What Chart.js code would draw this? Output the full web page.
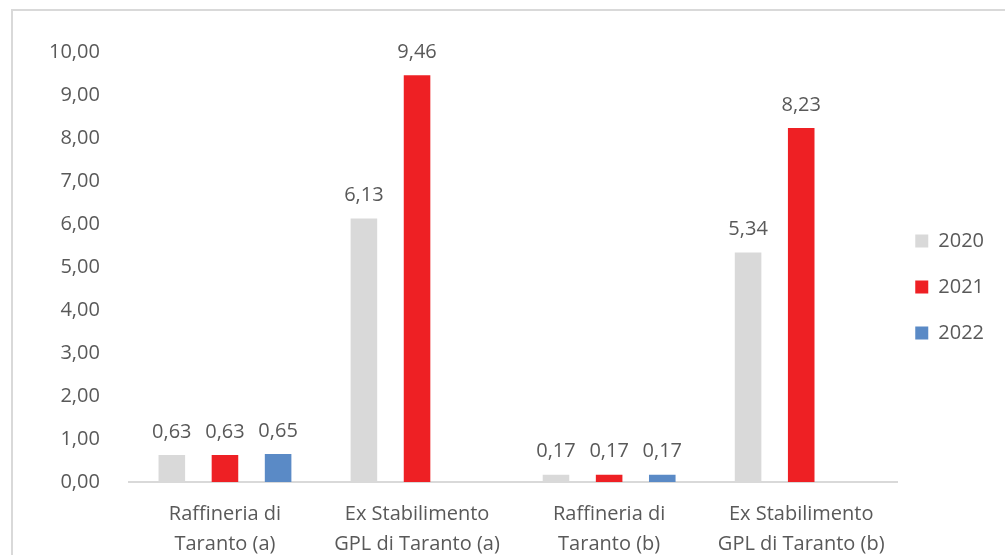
<!DOCTYPE html>
<html>
<head>
<meta charset="utf-8">
<script src="https://cdn.jsdelivr.net/npm/chart.js@4"></script>
<style>
body { margin:0; background:#fff; overflow:hidden; }
#cornice { position:absolute; left:11px; top:9px; width:1010px; height:580px; border:2px solid #d9d9d9; }
#box { position:absolute; left:0; top:0; width:1005px; height:576px; }
</style>
</head>
<body>
<div id="cornice"></div>
<div id="box"><canvas id="grafico"></canvas></div>
<script>
var categorie = [["Raffineria di","Taranto (a)"],["Ex Stabilimento","GPL di Taranto (a)"],["Raffineria di","Taranto (b)"],["Ex Stabilimento","GPL di Taranto (b)"]];
var anni = ["2020","2021","2022"];
var valori2020 = [0.63, 6.13, 0.17, 5.34];
var valori2021 = [0.63, 9.46, 0.17, 8.23];
var valori2022 = [0.65, null, 0.17, null];
var colori = ["#d9d9d9", "#ee2024", "#5a8ac6"];

function virgola(v) {
	return v.toFixed(2).replace(".", ",");
}

// etichette sopra le barre
var etichette = {
	id: "etichette",
	afterLayout: function(chart) {
		// legenda centrata sull'area visibile
		var dy = (chart.legend.top + chart.legend.bottom) / 2 - 287;
		chart.legend.top -= dy;
		chart.legend.bottom -= dy;
		chart.legend.left -= 8;
		chart.legend.right -= 8;
	},
	afterDatasetsDraw: function(chart) {
		var ctx = chart.ctx;
		ctx.save();
		ctx.font = "20px 'Open Sans'";
		ctx.fillStyle = "#595959";
		ctx.textAlign = "center";
		ctx.textBaseline = "bottom";
		chart.data.datasets.forEach(function(ds, i) {
			chart.getDatasetMeta(i).data.forEach(function(bar, j) {
				if (ds.data[j] == null) return;
				ctx.fillText(virgola(ds.data[j]), bar.x, bar.y - 13);
			});
		});
		ctx.restore();
	}
};

Chart.defaults.font.family = "'Open Sans'";
Chart.defaults.font.size = 20;
Chart.defaults.color = "#595959";

new Chart(document.getElementById("grafico"), {
	type: 'bar',
	data: {
		labels: categorie,
		datasets: [
			{ label: anni[0], data: valori2020, backgroundColor: colori[0] },
			{ label: anni[1], data: valori2021, backgroundColor: colori[1] },
			{ label: anni[2], data: valori2022, backgroundColor: colori[2] }
		]
	},
	options: {
		responsive: true,
		maintainAspectRatio: false,
		animation: false,
		categoryPercentage: 0.83,
		barPercentage: 0.5,
		layout: { padding: { left: 28, top: 52, right: 3, bottom: 0 } },
		plugins: {
			tooltip: { enabled: false },
			legend: {
				position: 'right',
				labels: { boxWidth: 13, boxHeight: 13, padding: 26, color: "#595959", font: { size: 20 } }
			}
		},
		scales: {
			y: {
				min: 0,
				max: 10,
				grid: { display: false },
				border: { display: false },
				ticks: { stepSize: 1, padding: 21, callback: function(v) { return virgola(v); } }
			},
			x: {
				grid: { display: false, drawTicks: false },
				border: { color: "#d9d9d9", width: 2 },
				ticks: { padding: 17, maxRotation: 0, font: { size: 20, lineHeight: 1.5 } }
			}
		}
	},
	plugins: [etichette]
});
</script>
</body>
</html>
